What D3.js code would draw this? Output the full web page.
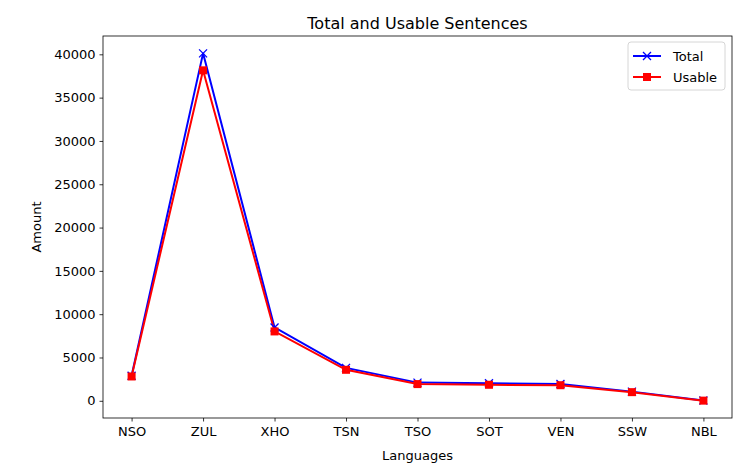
<!DOCTYPE html>
<html>
<head>
<meta charset="utf-8">
<script src="https://cdn.jsdelivr.net/npm/d3@7"></script>
<style>
  body { margin: 0; background: #fff; }
  text { font-family: "DejaVu Sans", sans-serif; }
</style>
</head>
<body>
<svg id="chart" width="750" height="476"></svg>
<script>
var languages = ["NSO", "ZUL", "XHO", "TSN", "TSO", "SOT", "VEN", "SSW", "NBL"];
var total  = [2900, 40110, 8470, 3800, 2100, 2020, 1950, 1060, 40];
var usable = [2810, 38150, 8010, 3580, 1930, 1850, 1800, 1000, 20];
var yTicks = [0, 5000, 10000, 15000, 20000, 25000, 30000, 35000, 40000];

var W = 750, H = 476,
    m = {left: 103, right: 18, top: 36, bottom: 58},
    iw = W - m.left - m.right,
    ih = H - m.top - m.bottom;

var svg = d3.select("#chart");
var g = svg.append("g").attr("transform", "translate(" + m.left + "," + m.top + ")");

// matplotlib style 5% margins
var n = languages.length;
var x = d3.scaleLinear().domain([-0.05 * (n - 1), (n - 1) * 1.05]).range([0, iw]);
var all = total.concat(usable),
    lo = d3.min(all), hi = d3.max(all), pad = (hi - lo) * 0.05;
var y = d3.scaleLinear().domain([lo - pad, hi + pad]).range([ih, 0]);

var xAxis = d3.axisBottom(x)
    .tickValues(d3.range(n))
    .tickFormat(function(i) { return languages[i]; })
    .tickSize(3.5).tickPadding(5);
var yAxis = d3.axisLeft(y)
    .tickValues(yTicks)
    .tickFormat(d3.format("d"))
    .tickSize(3.5).tickPadding(4);

var gx = g.append("g").attr("transform", "translate(0," + ih + ")").call(xAxis);
var gy = g.append("g").call(yAxis);
[gx, gy].forEach(function(a) {
  a.select(".domain").remove();
  a.selectAll("text").style("font-size", "13px").attr("fill", "#000");
  a.selectAll("line").attr("stroke", "#000").attr("stroke-width", 0.8);
});

g.append("rect")
    .attr("width", iw).attr("height", ih)
    .attr("fill", "none").attr("stroke", "#000").attr("stroke-width", 0.8);

var line = d3.line()
    .x(function(d, i) { return x(i); })
    .y(function(d) { return y(d); });

g.append("path").datum(total)
    .attr("d", line).attr("fill", "none")
    .attr("stroke", "blue").attr("stroke-width", 2);
g.append("path").datum(usable)
    .attr("d", line).attr("fill", "none")
    .attr("stroke", "red").attr("stroke-width", 2);

function cross(sel, s) {
  sel.append("path")
      .attr("d", "M" + (-s) + "," + (-s) + "L" + s + "," + s + "M" + (-s) + "," + s + "L" + s + "," + (-s))
      .attr("stroke", "blue").attr("stroke-width", 1.3).attr("fill", "none");
}

g.selectAll("g.tot").data(total).enter().append("g")
    .attr("class", "tot")
    .attr("transform", function(d, i) { return "translate(" + x(i) + "," + y(d) + ")"; })
    .each(function() { cross(d3.select(this), 4); });

g.selectAll("rect.use").data(usable).enter().append("rect")
    .attr("class", "use")
    .attr("x", function(d, i) { return x(i) - 4; })
    .attr("y", function(d) { return y(d) - 4; })
    .attr("width", 8).attr("height", 8)
    .attr("fill", "red");

// title and axis labels
svg.append("text")
    .attr("x", m.left + iw / 2).attr("y", m.top - 7)
    .attr("text-anchor", "middle").style("font-size", "16px")
    .text("Total and Usable Sentences");
svg.append("text")
    .attr("x", m.left + iw / 2).attr("y", H - 16)
    .attr("text-anchor", "middle").style("font-size", "13px")
    .text("Languages");
svg.append("text")
    .attr("transform", "translate(41," + (m.top + ih / 2) + ") rotate(-90)")
    .attr("text-anchor", "middle").style("font-size", "13px")
    .text("Amount");

// legend
var lg = svg.append("g").attr("transform", "translate(628,42)");
lg.append("rect")
    .attr("width", 97).attr("height", 48).attr("rx", 3)
    .attr("fill", "#fff").attr("stroke", "#ccc").attr("stroke-width", 0.8);
var items = [{name: "Total", color: "blue"}, {name: "Usable", color: "red"}];
items.forEach(function(it, i) {
  var row = lg.append("g").attr("transform", "translate(0," + (14 + i * 21) + ")");
  row.append("line").attr("x1", 5).attr("x2", 33)
      .attr("stroke", it.color).attr("stroke-width", 2);
  var mk = row.append("g").attr("transform", "translate(19,0)");
  if (i === 0) cross(mk, 4);
  else mk.append("rect").attr("x", -4).attr("y", -4).attr("width", 8).attr("height", 8).attr("fill", "red");
  row.append("text").attr("x", 45).attr("y", 5).style("font-size", "13px").text(it.name);
});
</script>
</body>
</html>
